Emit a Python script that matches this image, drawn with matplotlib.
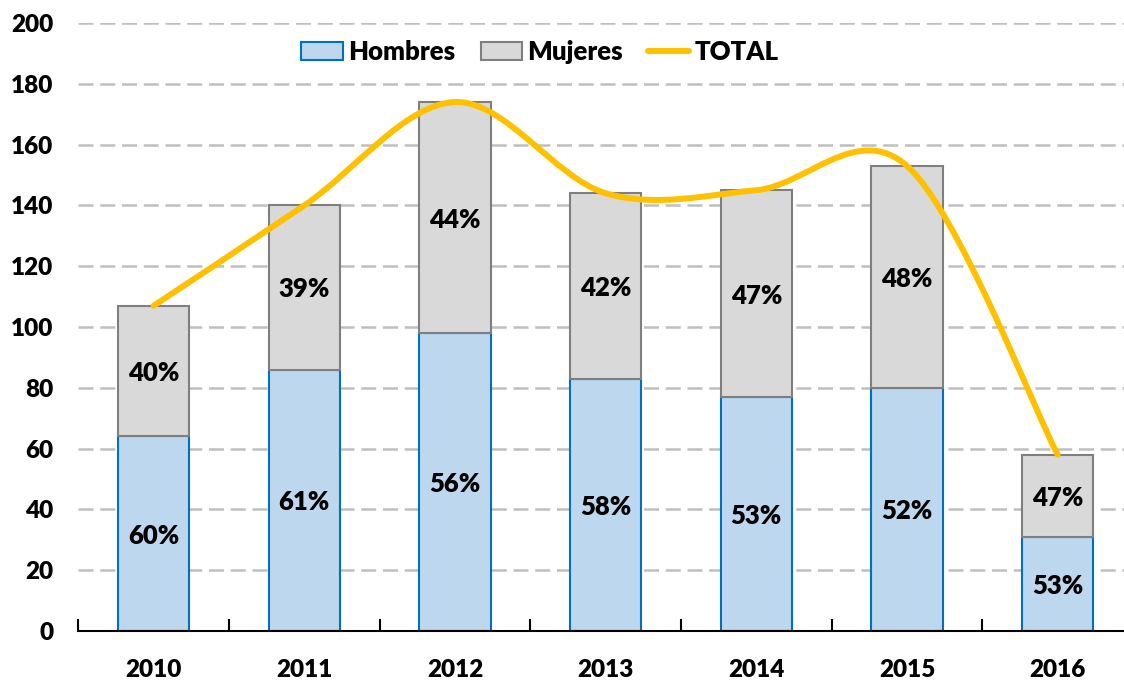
import numpy as np
import matplotlib
matplotlib.use("Agg")
import matplotlib.pyplot as plt
from matplotlib.path import Path
from matplotlib.patches import PathPatch
from matplotlib.lines import Line2D
from matplotlib.patches import Patch

years = ["2010", "2011", "2012", "2013", "2014", "2015", "2016"]
hombres = [64, 86, 98, 83, 77, 80, 31]
mujeres = [43, 54, 76, 61, 68, 73, 27]
yticks = [0, 20, 40, 60, 80, 100, 120, 140, 160, 180, 200]

plt.rcParams['font.family'] = ['Lato', 'DejaVu Sans']
W = 'heavy'
FS = 17.5

fig = plt.figure(figsize=(11.24, 6.8), dpi=100)
ax = fig.add_axes([78.3 / 1124, 49 / 680, 1054.7 / 1124, 608 / 680])

x = np.arange(len(years))
h = np.array(hombres, dtype=float)
m = np.array(mujeres, dtype=float)
tot = h + m
bw = 0.475

ax.bar(x, h, bw, color='#BDD7EE', edgecolor='#0070C0', linewidth=1.5, zorder=2)
ax.bar(x, m, bw, bottom=h, color='#D9D9D9', edgecolor='#7F7F7F', linewidth=1.5, zorder=2)

for xi, hi, mi, ti in zip(x, h, m, tot):
    ax.text(xi, hi / 2, f"{round(hi / ti * 100):.0f}%", ha='center', va='center_baseline',
            fontsize=FS + 1, fontweight=W, zorder=4)
    ax.text(xi, hi + mi / 2, f"{round(mi / ti * 100):.0f}%", ha='center', va='center_baseline',
            fontsize=FS + 1, fontweight=W, zorder=4)

# Smoothed TOTAL line (Excel-style Bezier smoothing through data points)
pts = np.column_stack([x.astype(float), tot])
verts = [tuple(pts[0])]
codes = [Path.MOVETO]
n = len(pts)
for i in range(n - 1):
    p0 = pts[max(i - 1, 0)]
    p1 = pts[i]
    p2 = pts[i + 1]
    p3 = pts[min(i + 2, n - 1)]
    c1 = p1 + (p2 - p0) / 6.0
    c2 = p2 - (p3 - p1) / 6.0
    verts += [tuple(c1), tuple(c2), tuple(p2)]
    codes += [Path.CURVE4] * 3
path = Path(verts, codes)
ax.add_patch(PathPatch(path, facecolor='none', edgecolor='#FFC000', linewidth=4.3,
                       capstyle='round', zorder=3))

ax.set_xlim(-0.5, len(years) - 0.5)
ax.set_ylim(0, 200)
ax.set_yticks(yticks)
ax.set_yticklabels([str(v) for v in yticks], fontsize=FS, fontweight=W)
ax.tick_params(axis='y', length=0, pad=18)
ax.set_xticks(x)
ax.set_xticklabels(years, fontsize=FS, fontweight=W)
ax.tick_params(axis='x', which='major', length=0, pad=20)
ax.set_xticks(np.arange(-0.5, len(years) + 0.5, 1), minor=True)
ax.tick_params(axis='x', which='minor', direction='in', length=9, width=1.5, color='black')

ax.yaxis.grid(True, color='#BFBFBF', linewidth=1.8, linestyle=(0, (6, 2.7)), zorder=0)
ax.set_axisbelow(True)
for s in ['left', 'right', 'top']:
    ax.spines[s].set_visible(False)
ax.spines['bottom'].set_linewidth(1.5)
ax.spines['bottom'].set_zorder(5)

handles = [Patch(facecolor='#BDD7EE', edgecolor='#0070C0', linewidth=1.5),
           Patch(facecolor='#D9D9D9', edgecolor='#7F7F7F', linewidth=1.5),
           Line2D([0], [0], color='#FFC000', linewidth=4.3, solid_capstyle='round')]
leg = fig.legend(handles, ['Hombres', 'Mujeres', 'TOTAL'], loc='center',
                 bbox_to_anchor=(540 / 1124, 1 - 52 / 680), ncol=3, frameon=False,
                 prop={'size': FS + 1, 'weight': W}, handlelength=1.6,
                 handleheight=0.7, handletextpad=0.2, columnspacing=1.0)

fig.savefig('out.png', dpi=100)
